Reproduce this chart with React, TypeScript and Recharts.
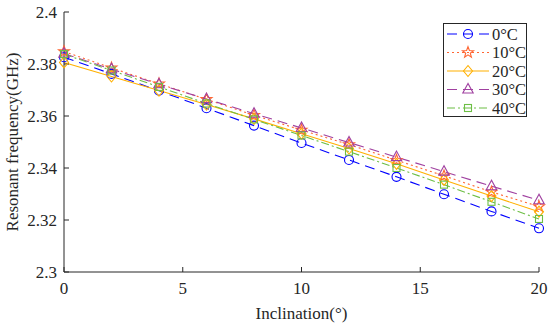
import { LineChart, Line, XAxis, YAxis, Legend } from 'recharts';

const inclination = [0, 2, 4, 6, 8, 10, 12, 14, 16, 18, 20];

const t0 = [2.3826, 2.3762, 2.3697, 2.363, 2.3563, 2.3496, 2.3431, 2.3366, 2.3299, 2.3233, 2.3168];
const t10 = [2.3848, 2.3785, 2.3724, 2.3664, 2.3603, 2.3546, 2.349, 2.343, 2.337, 2.3308, 2.3252];
const t20 = [2.3806, 2.3752, 2.3698, 2.3644, 2.3589, 2.3532, 2.3475, 2.3416, 2.3354, 2.3292, 2.3232];
const t30 = [2.384, 2.378, 2.3722, 2.3665, 2.3609, 2.3554, 2.3498, 2.3442, 2.3386, 2.333, 2.3276];
const t40 = [2.3838, 2.3775, 2.3712, 2.3648, 2.3587, 2.3525, 2.3463, 2.34, 2.3336, 2.327, 2.3204];

const xTicks = [0, 5, 10, 15, 20];
const yTicks = [2.3, 2.32, 2.34, 2.36, 2.38, 2.4];

const data = inclination.map((x, i) => ({
  x,
  t0: t0[i],
  t10: t10[i],
  t20: t20[i],
  t30: t30[i],
  t40: t40[i],
}));

const FONT = "'Liberation Serif', 'DejaVu Serif', serif";
const AXIS = '#262626';

type Marker = 'circle' | 'star' | 'diamond' | 'triangle' | 'square';

const series: { key: string; name: string; color: string; dash?: string; marker: Marker }[] = [
  { key: 't0', name: '0°C', color: '#0000FF', dash: '10 6', marker: 'circle' },
  { key: 't10', name: '10°C', color: '#FF6633', dash: '2 3', marker: 'star' },
  { key: 't20', name: '20°C', color: '#FFB000', marker: 'diamond' },
  { key: 't30', name: '30°C', color: '#A040A0', dash: '10 6', marker: 'triangle' },
  { key: 't40', name: '40°C', color: '#6DBE45', dash: '8 3 2 3', marker: 'square' },
];

function shape(marker: Marker, cx: number, cy: number, color: string, key?: string) {
  const common = { fill: 'none', stroke: color, strokeWidth: 1.1 };
  if (marker === 'circle') return <circle key={key} cx={cx} cy={cy} r={4.5} {...common} />;
  if (marker === 'square') return <rect key={key} x={cx - 3.5} y={cy - 3.5} width={7} height={7} {...common} />;
  if (marker === 'diamond')
    return (
      <polygon key={key} points={`${cx},${cy - 5.5} ${cx + 4.5},${cy} ${cx},${cy + 5.5} ${cx - 4.5},${cy}`} {...common} />
    );
  if (marker === 'triangle')
    return (
      <polygon key={key} points={`${cx},${cy - 6} ${cx - 5.2},${cy + 3.5} ${cx + 5.2},${cy + 3.5}`} {...common} />
    );
  const pts: string[] = [];
  for (let k = 0; k < 10; k++) {
    const r = k % 2 === 0 ? 5.8 : 2.4;
    const a = -Math.PI / 2 + (k * Math.PI) / 5;
    pts.push(`${cx + r * Math.cos(a)},${cy + r * Math.sin(a)}`);
  }
  return <polygon key={key} points={pts.join(' ')} {...common} />;
}

const yFmt = (v: number) => String(Number(v.toFixed(2)));

const XTitle = (props: any) => {
  const { x, y, width } = props.viewBox;
  return (
    <text x={x + width / 2} y={y + 46.5} textAnchor="middle" fill={AXIS} fontSize={17} fontFamily={FONT}>
      Inclination(°)
    </text>
  );
};

const YTitle = (props: any) => {
  const { y, height } = props.viewBox;
  const cx = 18;
  const cy = y + height / 2;
  return (
    <text
      x={cx}
      y={cy}
      transform={`rotate(-90, ${cx}, ${cy})`}
      textAnchor="middle"
      fill={AXIS}
      fontSize={17}
      fontFamily={FONT}
    >
      Resonant frequency(GHz)
    </text>
  );
};

const LegendBox = () => (
  <svg width={84} height={94} style={{ display: 'block' }}>
    <rect x={0.5} y={0.5} width={83} height={93} fill="#fff" stroke={AXIS} strokeWidth={1} />
    {series.map((s, i) => {
      const cy = 11 + i * 18.5;
      return (
        <g key={s.key}>
          <line x1={4} x2={46} y1={cy} y2={cy} stroke={s.color} strokeWidth={1.1} strokeDasharray={s.dash} />
          {shape(s.marker, 25, cy, s.color)}
          <text x={49} y={cy + 5.5} fill={AXIS} fontSize={16.5} fontFamily={FONT}>
            {s.name}
          </text>
        </g>
      );
    })}
  </svg>
);

export default function App() {
  return (
    <div style={{ position: 'absolute', left: 0, top: 0, background: '#fff' }}>
      <LineChart width={550} height={325} data={data} margin={{ top: 12, right: 11, left: 0, bottom: 0 }}>
        <XAxis
          dataKey="x"
          type="number"
          domain={[0, 20]}
          ticks={xTicks}
          height={53}
          stroke={AXIS}
          tickSize={-5}
          tickMargin={15}
          tick={{ fill: AXIS, fontSize: 17, fontFamily: FONT }}
          label={<XTitle />}
        />
        <YAxis
          type="number"
          domain={[2.3, 2.4]}
          ticks={yTicks}
          width={64}
          stroke={AXIS}
          tickSize={-5}
          tickMargin={12}
          tickFormatter={yFmt}
          tick={{ fill: AXIS, fontSize: 17, fontFamily: FONT }}
          label={<YTitle />}
        />
        <Legend
          layout="vertical"
          align="center"
          verticalAlign="middle"
          wrapperStyle={{ position: 'absolute', left: 443, top: 23, width: 84, height: 94 }}
          content={() => <LegendBox />}
        />
        {series.map((s) => (
          <Line
            key={s.key}
            dataKey={s.key}
            name={s.name}
            stroke={s.color}
            strokeWidth={1.1}
            strokeDasharray={s.dash}
            isAnimationActive={false}
            dot={(p: any) => shape(s.marker, p.cx, p.cy, s.color, `${s.key}-${p.index}`)}
            activeDot={false}
          />
        ))}
      </LineChart>
    </div>
  );
}
